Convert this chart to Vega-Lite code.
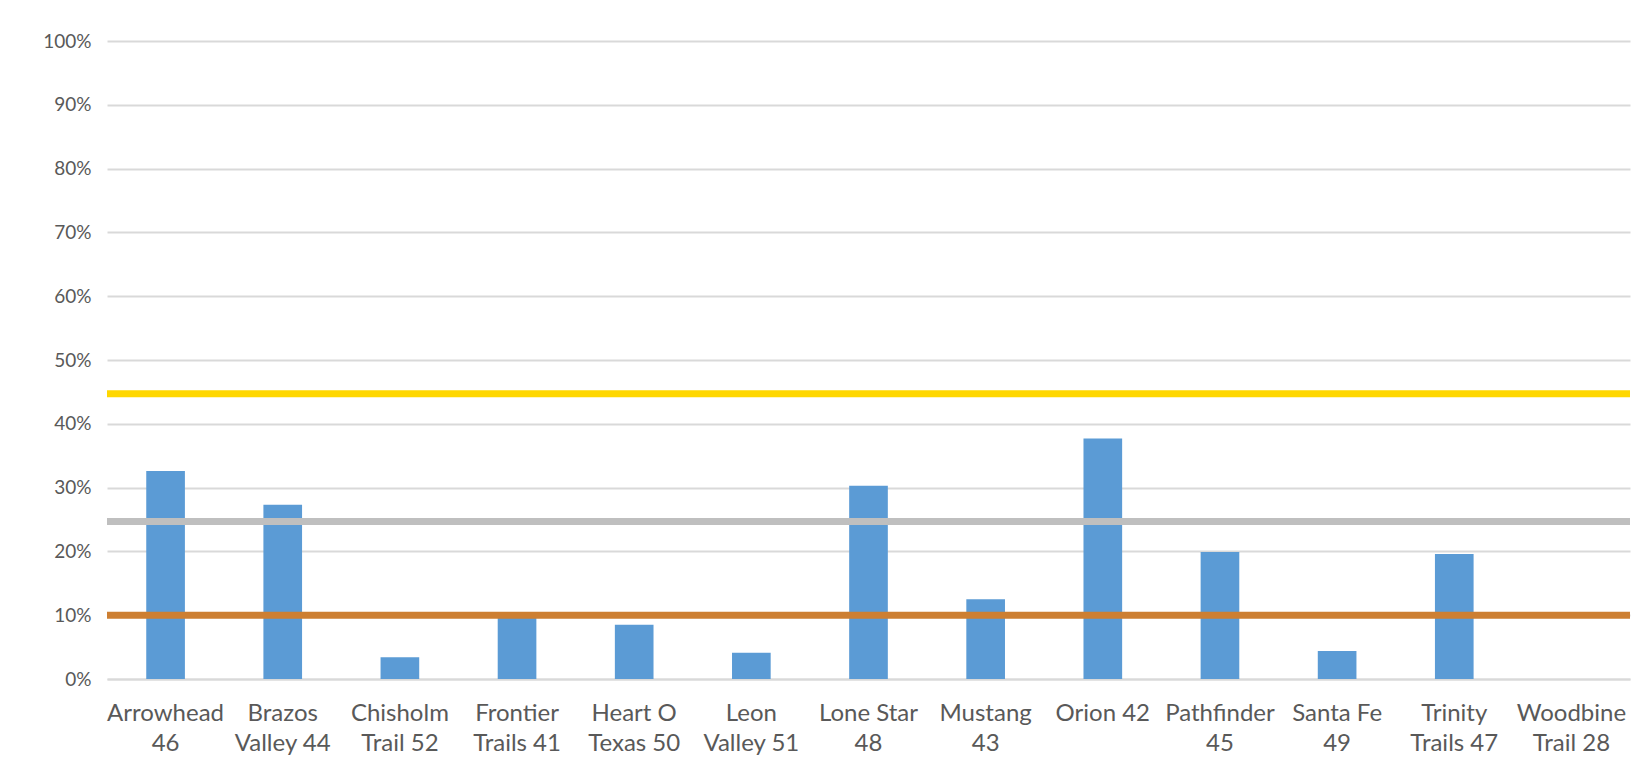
{
  "$schema": "https://vega.github.io/schema/vega-lite/v6.json",
  "width": 1523,
  "height": 638,
  "padding": {"left": 7, "top": 32, "right": 16, "bottom": 10},
  "background": "white",
  "config": {
    "view": {"stroke": null},
    "font": "Lato",
    "axis": {"labelFont": "Lato", "labelColor": "#595959"}
  },
  "datasets": {
    "schools": [
      {"district": "Arrowhead 46", "rate": 0.326},
      {"district": "Brazos Valley 44", "rate": 0.273},
      {"district": "Chisholm Trail 52", "rate": 0.034},
      {"district": "Frontier Trails 41", "rate": 0.098},
      {"district": "Heart O Texas 50", "rate": 0.085},
      {"district": "Leon Valley 51", "rate": 0.041},
      {"district": "Lone Star 48", "rate": 0.303},
      {"district": "Mustang 43", "rate": 0.125},
      {"district": "Orion 42", "rate": 0.377},
      {"district": "Pathfinder 45", "rate": 0.199},
      {"district": "Santa Fe 49", "rate": 0.044},
      {"district": "Trinity Trails 47", "rate": 0.196},
      {"district": "Woodbine Trail 28", "rate": 0.0}
    ],
    "benchmarks": [
      {"benchmark": "Gold", "level": 0.447},
      {"benchmark": "Silver", "level": 0.247},
      {"benchmark": "Bronze", "level": 0.1}
    ]
  },
  "layer": [
    {
      "data": {"name": "schools"},
      "mark": {"type": "bar", "color": "#5B9BD5"},
      "encoding": {
        "x": {
          "field": "district",
          "type": "nominal",
          "sort": null,
          "scale": {"paddingInner": 0.67, "paddingOuter": 0.335},
          "axis": {
            "title": null,
            "labelAngle": 0,
            "ticks": false,
            "tickSize": 0,
            "domainColor": "#D9D9D9",
            "domainWidth": 2,
            "labelFontSize": 24,
            "labelPadding": 22,
            "labelLineHeight": 30,
            "labelOverlap": false,
            "labelBound": false,
            "labelLimit": 0,
            "labelExpr": "test(regexp('^(Heart O|Lone Star|Santa Fe) '), datum.value) ? [replace(datum.value, regexp('^([^ ]+ [^ ]+) .*$'), '$1'), replace(datum.value, regexp('^[^ ]+ [^ ]+ '), '')] : datum.value == 'Orion 42' ? datum.value : [replace(datum.value, regexp(' .*$'), ''), replace(datum.value, regexp('^[^ ]+ '), '')]"
          }
        },
        "y": {
          "field": "rate",
          "type": "quantitative",
          "scale": {"domain": [0, 1]},
          "axis": {
            "title": null,
            "values": [0, 0.1, 0.2, 0.3, 0.4, 0.5, 0.6, 0.7, 0.8, 0.9, 1.0],
            "format": ".0%",
            "ticks": false,
            "tickSize": 0,
            "domain": false,
            "gridColor": "#D9D9D9",
            "gridWidth": 2,
            "labelFontSize": 19,
            "labelPadding": 16,
            "minExtent": 100,
            "maxExtent": 100
          }
        }
      }
    },
    {
      "data": {"name": "benchmarks"},
      "mark": {"type": "rule", "strokeWidth": 7},
      "encoding": {
        "y": {"field": "level", "type": "quantitative"},
        "color": {
          "field": "benchmark",
          "type": "nominal",
          "scale": {"domain": ["Gold", "Silver", "Bronze"], "range": ["#FFD700", "#BFBFBF", "#CD7F32"]},
          "legend": null
        }
      }
    }
  ]
}
